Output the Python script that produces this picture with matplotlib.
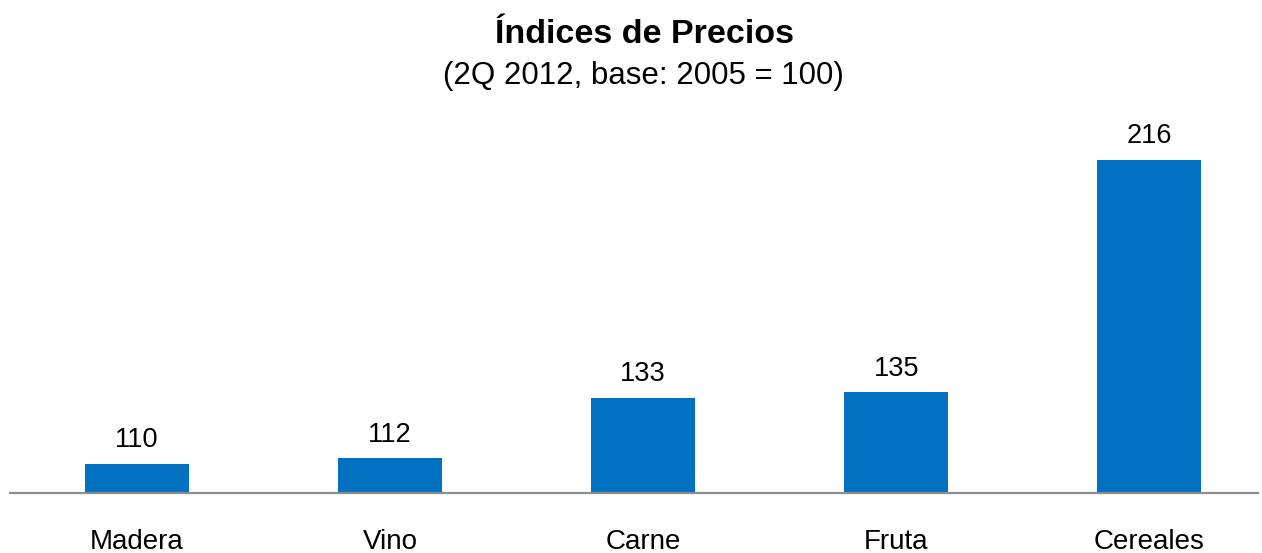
import matplotlib.pyplot as plt

plt.rcParams['font.family'] = ['Liberation Sans', 'DejaVu Sans']

categorias = ['Madera', 'Vino', 'Carne', 'Fruta', 'Cereales']
indices = [110, 112, 133, 135, 216]
base = 100

W, H = 1262, 553
fig = plt.figure(figsize=(W / 100, H / 100), dpi=100)

# axes placed in pixel terms: baseline at ~492.7 px, 2.868 px per index unit
px_unit = 2.868
y_top = 240
ax_bottom = (H - 492.7) / H
ax_height = (y_top - base) * px_unit / H
ax = fig.add_axes([10 / W, ax_bottom, (1258 - 10) / W, ax_height])

x = range(len(categorias))
bars = ax.bar(x, [v - base for v in indices], bottom=base, width=0.41,
              color='#0070C0', edgecolor='none')

for xi, v in zip(x, indices):
    ax.annotate(str(v), (xi, v), xytext=(0, 12), textcoords='offset points',
                ha='center', va='baseline', fontsize=19.5)

ax.set_xlim(-0.502, 4.43)
ax.set_ylim(base, y_top)
ax.set_xticks(list(x))
ax.set_xticklabels(categorias, fontsize=20)
ax.tick_params(axis='x', length=0, pad=26)
ax.set_yticks([])
for s in ['top', 'left', 'right']:
    ax.spines[s].set_visible(False)
ax.spines['bottom'].set_color('#8c8c8c')
ax.spines['bottom'].set_linewidth(1.6)

fig.text(0.511, 1 - 43 / H, 'Índices de Precios', ha='center', va='baseline',
         fontsize=24.5, fontweight='bold')
fig.text(0.510, 1 - 84 / H, '(2Q 2012, base: 2005 = 100)', ha='center',
         va='baseline', fontsize=22.5)

fig.savefig('out.png', dpi=100)
